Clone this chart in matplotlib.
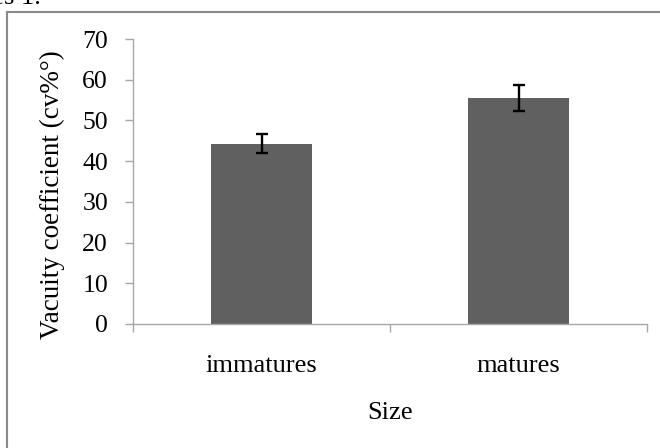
import matplotlib
matplotlib.use('Agg')
import matplotlib.pyplot as plt
from matplotlib.lines import Line2D

sizes = ['immatures', 'matures']
vacuity = [44.3, 55.5]      # cv%
errors = [2.3, 3.1]

plt.rcParams['font.family'] = ['Liberation Serif', 'DejaVu Serif']

W, H = 660, 448
fig = plt.figure(figsize=(W / 100, H / 100), dpi=100)
ax = fig.add_axes([133 / W, 1 - 324 / H, 514 / W, 285 / H])

x = list(range(len(sizes)))
ax.bar(x, vacuity, width=0.39, color='#606060', zorder=2)
ax.errorbar(x, vacuity, yerr=errors, fmt='none', ecolor='black',
            elinewidth=1.7, capsize=4.5, capthick=1.7, zorder=3)

ax.set_xlim(-0.5, 1.5)
ax.set_ylim(0, 70)
ax.set_yticks(range(0, 71, 10))

# excel style: ticks between categories, labels centred under bars
ax.set_xticks([-0.5, 0.5, 1.5])
ax.set_xticklabels(['', '', ''])
ax.set_xticks(x, minor=True)
ax.set_xticklabels(sizes, minor=True)
ax.tick_params(axis='x', which='minor', length=0, pad=22, labelsize=19)
ax.tick_params(axis='x', which='major', length=6, color='#a8a8a8', width=1)
ax.tick_params(axis='y', length=6, color='#a8a8a8', width=1, pad=12, labelsize=18.5)

for side in ['top', 'right']:
    ax.spines[side].set_visible(False)
for side in ['left', 'bottom']:
    ax.spines[side].set_color('#a8a8a8')
    ax.spines[side].set_linewidth(1)

fig.text(52 / W, 1 - 195 / H, 'Vacuity coefficient (cv%°)', rotation=90,
         ha='center', va='center', fontsize=19.5)
fig.text(390 / W, 1 - 413 / H, 'Size', ha='center', va='center', fontsize=19)

# frame of the surrounding chart box (cut at right/bottom)
fig.add_artist(Line2D([7 / W, 7 / W], [0, 1 - 12 / H], transform=fig.transFigure,
                      color='#8a8a8a', lw=1.5))
fig.add_artist(Line2D([7 / W, 1], [1 - 12 / H, 1 - 12 / H], transform=fig.transFigure,
                      color='#8a8a8a', lw=1.5))
fig.text(41 / W, 1 - 4 / H, 'Figures 1.', ha='right', va='baseline', fontsize=19)

fig.savefig('out.png', dpi=100)
